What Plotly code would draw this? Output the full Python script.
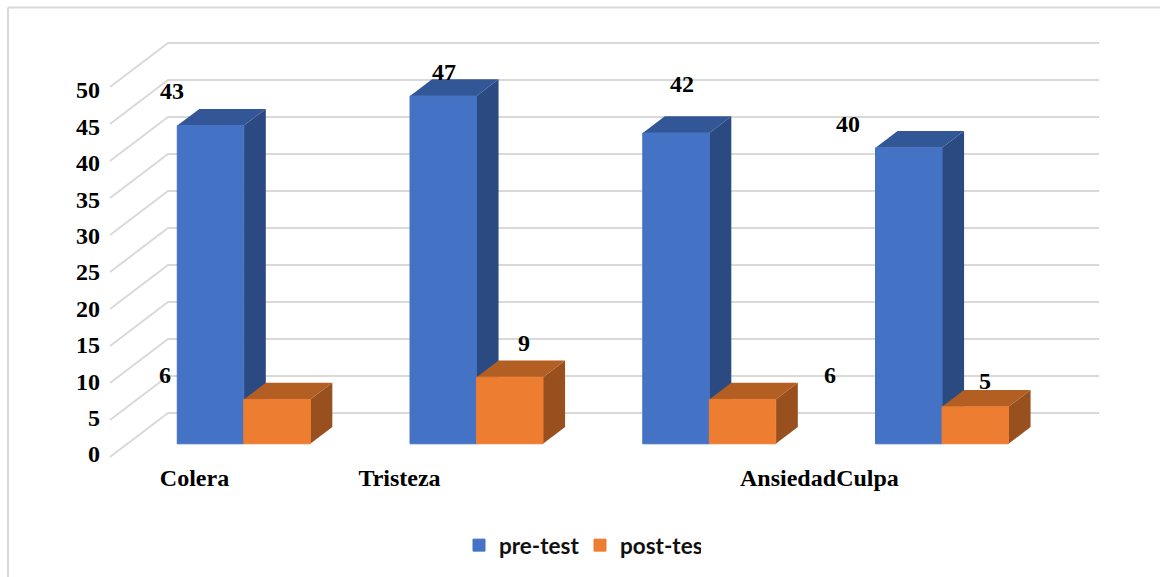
import plotly.graph_objects as go

# Chart data
categories = ["Colera", "Tristeza", "Ansiedad", "Culpa"]
pre_test = [43, 47, 42, 40]
post_test = [6, 9, 6, 5]
axis_ticks = [0, 5, 10, 15, 20, 25, 30, 35, 40, 45, 50]

# Page and projection geometry (pixels)
W, H = 1160, 577
FRONT_LEFT, FRONT_ZERO, PX_PER_VALUE = 110, 457, 7.4
BAND_PX = 232.75
PLOT_L, PLOT_B = 101, 461
DEPTH_X = 58 / BAND_PX      # full floor depth in band units
DEPTH_Y = 44 / PX_PER_VALUE  # full floor depth in value units
BAR_W = 66.5 / BAND_PX
BAR_NEAR = 0.30             # floor depth at which the bar fronts stand
BAR_DEPTH = 0.38            # how far each bar runs back
N_BANDS = len(categories)

PRE = {"front": "#4472C4", "top": "#335696", "side": "#2B4A82"}
POST = {"front": "#ED7D31", "top": "#B35E23", "side": "#98501F"}
GRID = "#D9D9D9"
TEXT_FONT = "Liberation Serif"


def px_to_x(px):
    return (px - FRONT_LEFT) / BAND_PX


def path(points):
    return "M" + " L".join(f"{x:.5f},{y:.5f}" for x, y in points)


shapes = [
    # chart frame: only the top and left edges show on the page
    dict(type="line", xref="paper", yref="paper",
         x0=(8 - PLOT_L) / (W - PLOT_L), x1=1.0,
         y0=(PLOT_B - 7.5) / PLOT_B, y1=(PLOT_B - 7.5) / PLOT_B,
         line=dict(color=GRID, width=2), layer="below"),
    dict(type="line", xref="paper", yref="paper",
         x0=(8 - PLOT_L) / (W - PLOT_L), x1=(8 - PLOT_L) / (W - PLOT_L),
         y0=(PLOT_B - 7.5) / PLOT_B, y1=(PLOT_B - H) / PLOT_B,
         line=dict(color=GRID, width=2), layer="below"),
]

# Gridlines run along the side wall and then across the back wall
for v in axis_ticks:
    shapes.append(dict(
        type="path", xref="x", yref="y", layer="below",
        path=path([(0, v), (DEPTH_X, v + DEPTH_Y),
                   (N_BANDS + DEPTH_X, v + DEPTH_Y)]),
        line=dict(color=GRID, width=2),
    ))


def bar_left(i, series):
    return i + 0.5 + BAR_NEAR * DEPTH_X + (series - 1) * BAR_W


base = BAR_NEAR * DEPTH_Y
dx, dy = BAR_DEPTH * DEPTH_X, BAR_DEPTH * DEPTH_Y

# Top and side faces of each block, painted behind the front faces
for i in range(N_BANDS):
    for series, (values, cols) in enumerate(((pre_test, PRE), (post_test, POST))):
        x0 = bar_left(i, series)
        x1 = x0 + BAR_W
        top = base + values[i]
        shapes.append(dict(
            type="path", xref="x", yref="y", layer="below",
            path=path([(x1, base), (x1 + dx, base + dy),
                       (x1 + dx, top + dy), (x1, top)]) + " Z",
            fillcolor=cols["side"], line=dict(width=0),
        ))
        shapes.append(dict(
            type="path", xref="x", yref="y", layer="below",
            path=path([(x0, top), (x0 + dx, top + dy),
                       (x1 + dx, top + dy), (x1, top)]) + " Z",
            fillcolor=cols["top"], line=dict(width=0),
        ))

fig = go.Figure()
for series, (name, values, cols) in enumerate((("pre-test", pre_test, PRE),
                                               ("post-test", post_test, POST))):
    fig.add_trace(go.Bar(
        name=name,
        x=[bar_left(i, series) + BAR_W / 2 for i in range(N_BANDS)],
        y=values,
        base=[base] * N_BANDS,
        width=BAR_W,
        marker=dict(color=cols["front"], line=dict(width=1, color=cols["front"])),
        hovertemplate="%{y}<extra>" + name + "</extra>",
    ))

# Value labels sit at hand-placed offsets from their bars
pre_offsets = [(-39, 35), (1, 24), (5.5, 48.6), (-61, 23.4)]
post_offsets = [(-111.6, 24), (14.6, 34), (87, 24), (9.5, 25.4)]
annotations = []
for series, (values, offsets) in enumerate(((pre_test, pre_offsets),
                                            (post_test, post_offsets))):
    for i, v in enumerate(values):
        annotations.append(dict(
            x=bar_left(i, series) + BAR_W / 2, y=base + v,
            xref="x", yref="y", text=str(v), showarrow=False,
            xshift=offsets[i][0], yshift=offsets[i][1],
            font=dict(family=TEXT_FONT, size=24, color="black", weight=700),
        ))

# Axis labels are spaced slightly tighter than the gridlines
LABEL_ZERO_PX, LABEL_STEP_PX = 454, 7.28
y_label_pos = [(FRONT_ZERO - (LABEL_ZERO_PX - LABEL_STEP_PX * v)) / PX_PER_VALUE
               for v in axis_ticks]
x_label_px = [194.5, 399.5, 788, 867.5]

fig.update_layout(
    width=W, height=H, autosize=False,
    margin=dict(l=PLOT_L, r=0, t=0, b=H - PLOT_B, pad=0),
    paper_bgcolor="white", plot_bgcolor="rgba(0,0,0,0)",
    barmode="overlay",
    shapes=shapes, annotations=annotations,
    xaxis=dict(
        range=[px_to_x(PLOT_L), px_to_x(W)],
        tickmode="array", tickvals=[px_to_x(p) for p in x_label_px],
        ticktext=categories, tickangle=0,
        showgrid=False, zeroline=False, showline=False,
        ticks="",
        tickfont=dict(family=TEXT_FONT, size=24, color="black", weight=700),
    ),
    yaxis=dict(
        range=[(FRONT_ZERO - PLOT_B) / PX_PER_VALUE, FRONT_ZERO / PX_PER_VALUE],
        tickmode="array", tickvals=y_label_pos,
        ticktext=[str(v) for v in axis_ticks],
        showgrid=False, zeroline=False, showline=False,
        ticks="", tickfont=dict(family=TEXT_FONT, size=24, color="black", weight=700),
    ),
    legend=dict(
        orientation="h", x=(459 - PLOT_L) / (W - PLOT_L),
        y=(PLOT_B - 545.5) / PLOT_B, xanchor="left", yanchor="middle",
        entrywidth=76, entrywidthmode="pixels",
        bgcolor="rgba(0,0,0,0)",
        font=dict(family="Lato", size=22.5, color="#111111", weight=700),
    ),
)

fig.write_html("out.html")
